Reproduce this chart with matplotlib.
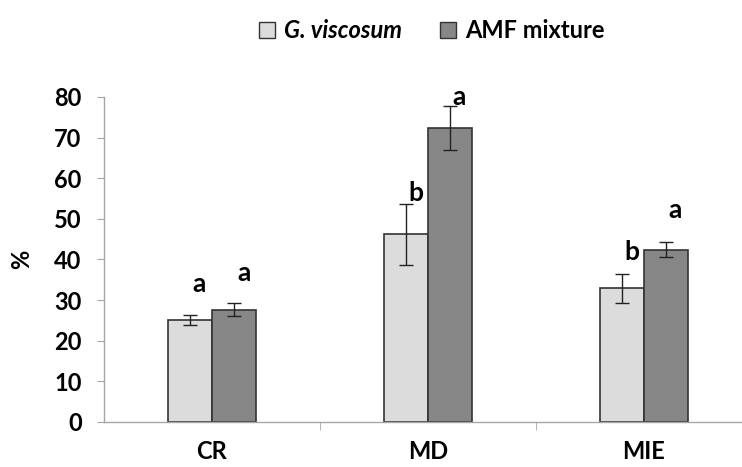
import numpy as np
import matplotlib.pyplot as plt
from matplotlib.patches import Patch

categories = ['CR', 'MD', 'MIE']
series_names = ['G. viscosum', 'AMF mixture']
gv_values = [25.1, 46.2, 32.9]
gv_errors = [1.2, 7.5, 3.6]
amf_values = [27.6, 72.4, 42.4]
amf_errors = [1.6, 5.4, 1.9]
gv_letters = ['a', 'b', 'b']
amf_letters = ['a', 'a', 'a']
gv_letter_y = [34.0, 56.4, 41.9]
amf_letter_y = [36.7, 80.1, 52.2]
y_ticks = [0, 10, 20, 30, 40, 50, 60, 70, 80]

font = 'Lato'
light = '#dcdcdc'
dark = '#878787'
edge = '#333333'
axis_col = '#a6a6a6'

fig = plt.figure(figsize=(7.42, 4.67), dpi=100)
ax = fig.add_axes([0.14, 0.0964, 0.86, 0.696])

x = np.arange(len(categories))
w = 0.204

ax.bar(x - w / 2, gv_values, w, color=light, edgecolor=edge, linewidth=1.2, zorder=2)
ax.bar(x + w / 2, amf_values, w, color=dark, edgecolor=edge, linewidth=1.2, zorder=2)
ax.errorbar(x - w / 2, gv_values, yerr=gv_errors, fmt='none', ecolor='#222222',
            elinewidth=1.0, capsize=5, capthick=1.0, zorder=3)
ax.errorbar(x + w / 2, amf_values, yerr=amf_errors, fmt='none', ecolor='#222222',
            elinewidth=1.0, capsize=5, capthick=1.0, zorder=3)

for i in range(len(categories)):
    ax.annotate(gv_letters[i], (x[i] - w / 2, gv_letter_y[i]), xytext=(7, 0),
                textcoords='offset points', ha='center', va='center',
                fontsize=19, fontweight='bold', family=font, annotation_clip=False)
    ax.annotate(amf_letters[i], (x[i] + w / 2, amf_letter_y[i]), xytext=(7, 0),
                textcoords='offset points', ha='center', va='center',
                fontsize=19, fontweight='bold', family=font, annotation_clip=False)

ax.set_xlim(-0.5, 2.455)
ax.set_ylim(0, 80)
ax.set_yticks(y_ticks)
ax.set_yticklabels([str(t) for t in y_ticks], fontsize=17, fontweight='bold', family=font)

ax.set_xticks(x)
ax.set_xticklabels(categories, fontsize=17, fontweight='bold', family=font)
ax.tick_params(axis='x', length=0, pad=13)
ax.set_xticks([0.5, 1.5], minor=True)
ax.tick_params(axis='x', which='minor', length=6, color=axis_col, direction='out')
ax.tick_params(axis='y', length=5, color=axis_col, direction='out', pad=11)

for s in ['top', 'right']:
    ax.spines[s].set_visible(False)
for s in ['left', 'bottom']:
    ax.spines[s].set_color(axis_col)
    ax.spines[s].set_linewidth(1.0)

ax.set_ylabel('%', fontsize=17, fontweight='bold', family=font, labelpad=15)

handles = [Patch(facecolor=light, edgecolor=edge, linewidth=1.0),
           Patch(facecolor=dark, edgecolor=edge, linewidth=1.0)]
leg = fig.legend(handles, series_names, loc='upper center', bbox_to_anchor=(0.582, 1.005),
                 ncol=2, frameon=False, handlelength=0.68, handleheight=0.68,
                 handletextpad=0.4, columnspacing=1.6,
                 prop={'family': font, 'weight': 'bold', 'size': 17})
leg.get_texts()[0].set_fontstyle('italic')

fig.savefig('out.png', dpi=100)
